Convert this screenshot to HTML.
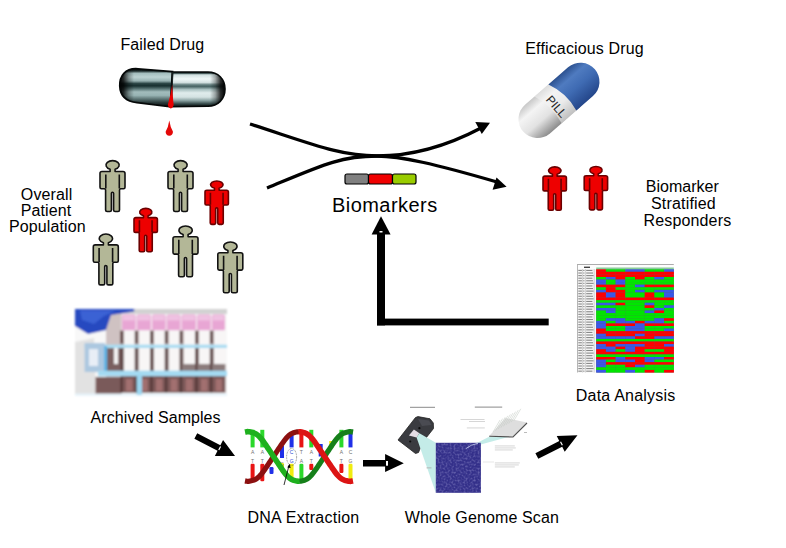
<!DOCTYPE html>
<html><head><meta charset="utf-8"><title>Biomarkers</title>
<style>html,body{margin:0;padding:0;background:#fff;overflow:hidden;} svg{display:block;} text{font-variant-ligatures:none;}</style></head>
<body>
<svg width="786" height="548" viewBox="0 0 786 548">
<rect width="786" height="548" fill="#fff"/>

<defs>
 <linearGradient id="pillL" x1="0" y1="0" x2="0" y2="1">
  <stop offset="0" stop-color="#060a0a"/>
  <stop offset="0.06" stop-color="#1a2828"/>
  <stop offset="0.12" stop-color="#a4bebe"/>
  <stop offset="0.22" stop-color="#bcd2d2"/>
  <stop offset="0.32" stop-color="#98b2b2"/>
  <stop offset="0.39" stop-color="#2a4444"/>
  <stop offset="0.45" stop-color="#183030"/>
  <stop offset="0.53" stop-color="#5a7676"/>
  <stop offset="0.61" stop-color="#a2bcbc"/>
  <stop offset="0.7" stop-color="#98b4b4"/>
  <stop offset="0.8" stop-color="#5a7272"/>
  <stop offset="0.89" stop-color="#2a3a3a"/>
  <stop offset="1" stop-color="#060a0a"/>
 </linearGradient>
 <linearGradient id="pillR" x1="0" y1="0" x2="0" y2="1">
  <stop offset="0" stop-color="#0a1010"/>
  <stop offset="0.04" stop-color="#3a5050"/>
  <stop offset="0.08" stop-color="#d0e0e0"/>
  <stop offset="0.2" stop-color="#f0f8f8"/>
  <stop offset="0.3" stop-color="#d4e2e2"/>
  <stop offset="0.37" stop-color="#607c7c"/>
  <stop offset="0.42" stop-color="#4a6666"/>
  <stop offset="0.5" stop-color="#a8c0c0"/>
  <stop offset="0.6" stop-color="#e0ecec"/>
  <stop offset="0.72" stop-color="#d4e2e2"/>
  <stop offset="0.82" stop-color="#8aa2a2"/>
  <stop offset="0.92" stop-color="#304444"/>
  <stop offset="1" stop-color="#0a1010"/>
 </linearGradient>
 <linearGradient id="blueCap" x1="0" y1="0" x2="0" y2="1">
  <stop offset="0" stop-color="#2c5190"/>
  <stop offset="0.25" stop-color="#4f7bc0"/>
  <stop offset="0.55" stop-color="#3f6bb3"/>
  <stop offset="1" stop-color="#24468a"/>
 </linearGradient>
 <linearGradient id="whiteCap" x1="0" y1="0" x2="0" y2="1">
  <stop offset="0" stop-color="#c8c8c8"/>
  <stop offset="0.25" stop-color="#f4f4f4"/>
  <stop offset="0.6" stop-color="#e2e2e2"/>
  <stop offset="1" stop-color="#8c8c8c"/>
 </linearGradient>
 <radialGradient id="whiteEnd" cx="0.45" cy="0.35" r="0.7">
  <stop offset="0" stop-color="#f6f6f6"/>
  <stop offset="0.6" stop-color="#d8d8d8"/>
  <stop offset="1" stop-color="#8c8c8c"/>
 </radialGradient>
 <filter id="noise" x="0" y="0" width="1" height="1">
  <feTurbulence type="fractalNoise" baseFrequency="0.5" numOctaves="2" seed="3" result="t0"/><feGaussianBlur in="t0" stdDeviation="0.5" result="t"/>
  <feColorMatrix in="t" type="matrix" values="0 0 0 0 0.4  0 0 0 0 0.38  0 0 0 0 0.72  0 0 0 1.0 -0.42" result="c"/>
  <feComposite in="c" in2="SourceGraphic" operator="in"/>
 </filter>
 <filter id="soft" x="-5%" y="-5%" width="110%" height="110%"><feGaussianBlur stdDeviation="0.9"/></filter>
 <filter id="soft2" x="-5%" y="-5%" width="110%" height="110%"><feGaussianBlur stdDeviation="0.35"/></filter>
 <filter id="soft3" x="-5%" y="-5%" width="110%" height="110%"><feGaussianBlur stdDeviation="0.9"/></filter>
</defs>

<text x="120.5" y="49.9" font-family="Liberation Sans, sans-serif" font-size="16" fill="#000" letter-spacing="0.1">Failed Drug</text>
<text x="525.3" y="54.4" font-family="Liberation Sans, sans-serif" font-size="16" fill="#000" letter-spacing="0.15">Efficacious Drug</text>
<text x="332" y="212.1" font-family="Liberation Sans, sans-serif" font-size="20" fill="#000" letter-spacing="0.45">Biomarkers</text>
<text x="645.8" y="192.4" font-family="Liberation Sans, sans-serif" font-size="16" fill="#000" >Biomarker</text>
<text x="651" y="209.2" font-family="Liberation Sans, sans-serif" font-size="16" fill="#000" letter-spacing="0.18">Stratified</text>
<text x="643.6" y="226.4" font-family="Liberation Sans, sans-serif" font-size="16" fill="#000" letter-spacing="0.14">Responders</text>
<text x="20.8" y="199.5" font-family="Liberation Sans, sans-serif" font-size="16" fill="#000" letter-spacing="0.15">Overall</text>
<text x="20.8" y="216.4" font-family="Liberation Sans, sans-serif" font-size="16" fill="#000" letter-spacing="0.1">Patient</text>
<text x="8.9" y="232.3" font-family="Liberation Sans, sans-serif" font-size="16" fill="#000" letter-spacing="0.12">Population</text>
<text x="90.6" y="423.1" font-family="Liberation Sans, sans-serif" font-size="16" fill="#000" letter-spacing="0.07">Archived Samples</text>
<text x="247.5" y="523.1" font-family="Liberation Sans, sans-serif" font-size="16" fill="#000" letter-spacing="0.25">DNA Extraction</text>
<text x="404.8" y="522.5" font-family="Liberation Sans, sans-serif" font-size="16" fill="#000" letter-spacing="0.12">Whole Genome Scan</text>
<text x="575.8" y="401.3" font-family="Liberation Sans, sans-serif" font-size="16" fill="#000" letter-spacing="0.2">Data Analysis</text>
<defs><linearGradient id="endL" x1="119" y1="0" x2="134" y2="0" gradientUnits="userSpaceOnUse"><stop offset="0" stop-color="#000" stop-opacity="1"/><stop offset="0.3" stop-color="#000" stop-opacity="0.8"/><stop offset="0.65" stop-color="#000" stop-opacity="0.3"/><stop offset="1" stop-color="#000" stop-opacity="0"/></linearGradient><linearGradient id="endR" x1="225" y1="0" x2="210" y2="0" gradientUnits="userSpaceOnUse"><stop offset="0" stop-color="#000" stop-opacity="1"/><stop offset="0.3" stop-color="#000" stop-opacity="0.8"/><stop offset="0.65" stop-color="#000" stop-opacity="0.3"/><stop offset="1" stop-color="#000" stop-opacity="0"/></linearGradient></defs>
<path d="M172.5,71.6 L138,68.8 C125,67.8 119.5,76 119.8,86 C120.2,96 126,101.5 137,102.6 L170.5,106.8 Z" fill="url(#pillL)"/>
<path d="M172.5,71.6 L138,68.8 C125,67.8 119.5,76 119.8,86 C120.2,96 126,101.5 137,102.6 L170.5,106.8 Z" fill="url(#endL)"/>
<path d="M172.5,71.6 L138,68.8 C125,67.8 119.5,76 119.8,86 C120.2,96 126,101.5 137,102.6 L170.5,106.8 Z" fill="none" stroke="#050808" stroke-width="1.8"/>
<path d="M172.5,72 L208,72 C218,72 225,79 225,89 C225,99 218,106.3 208,106.3 L170.5,106.8 Z" fill="url(#pillR)"/>
<path d="M172.5,72 L208,72 C218,72 225,79 225,89 C225,99 218,106.3 208,106.3 L170.5,106.8 Z" fill="url(#endR)"/>
<path d="M172.5,72 L208,72 C218,72 225,79 225,89 C225,99 218,106.3 208,106.3 L170.5,106.8 Z" fill="none" stroke="#050808" stroke-width="1.6"/>
<path d="M172.4,72 L173.4,72 L172,107 L170.8,106.8 Z" fill="#1c2828"/>
<path d="M172.2,84.8 Q172.8,98 173.7,105 Q172.5,108.6 170.5,108.6 Q168,107 167.8,105 Q170.5,96 172.2,84.8 Z" fill="#e80000"/>
<path d="M169.3,120.4 Q170.3,127 172.9,131.5 A3.65,3.65 0 1 1 165.7,131.5 Q168.3,127 169.3,120.4 Z" fill="#e40808"/>
<g transform="translate(559,100.4) rotate(-41)">
<path d="M-28.5,-19 H12 V19 H-28.5 A19,19 0 0 1 -28.5,-19 Z" fill="url(#whiteCap)"/>
<path d="M-16,-19 H4 Q11,0 6.5,19 H-13 Q-9,0 -16,-19 Z" fill="#f4f4f4" opacity="0.5"/>
<path d="M2.5,-19 H28.5 A19,19 0 0 1 28.5,19 H6.5 Q11,0 2.5,-19 Z" fill="url(#blueCap)"/>
<text x="0" y="0" font-family="Liberation Sans, sans-serif" font-size="12" fill="#262626" transform="translate(-7,3) rotate(90)" text-anchor="middle" dominant-baseline="middle">PILL</text>
</g>
<g transform="translate(100,160) scale(1.0000,1.0000)"><path d="M10.1,9.3 L10.1,11.5 L2,11.5 Q0,11.5 0,13.5 L0,27.3 Q0,28.8 1.4,28.8 L4.4,28.8 Q5.6,28.8 5.6,30 L5.6,50 Q5.6,51.5 7.1,51.5 L9.9,51.5 Q11.4,51.5 11.4,50 L11.4,33.2 Q11.4,32.2 12.4,32.2 Q13.6,32.2 13.6,33.2 L13.6,50 Q13.6,51.5 15.1,51.5 L18,51.5 Q19.5,51.5 19.5,50 L19.5,30 Q19.5,28.8 20.7,28.8 L23.6,28.8 Q25,28.8 25,27.3 L25,13.5 Q25,11.5 23,11.5 L15.1,11.5 L15.1,9.3 A6.6,4.5 0 1 0 10.1,9.3 Z" fill="#b3b797" stroke="#121212" stroke-width="1.6" vector-effect="non-scaling-stroke" stroke-linejoin="round"/><path d="M5.8,14.5 V28.6 M19.3,14.5 V28.6" stroke="#121212" stroke-width="1.6" vector-effect="non-scaling-stroke" fill="none"/></g>
<g transform="translate(168,160) scale(1.0000,1.0000)"><path d="M10.1,9.3 L10.1,11.5 L2,11.5 Q0,11.5 0,13.5 L0,27.3 Q0,28.8 1.4,28.8 L4.4,28.8 Q5.6,28.8 5.6,30 L5.6,50 Q5.6,51.5 7.1,51.5 L9.9,51.5 Q11.4,51.5 11.4,50 L11.4,33.2 Q11.4,32.2 12.4,32.2 Q13.6,32.2 13.6,33.2 L13.6,50 Q13.6,51.5 15.1,51.5 L18,51.5 Q19.5,51.5 19.5,50 L19.5,30 Q19.5,28.8 20.7,28.8 L23.6,28.8 Q25,28.8 25,27.3 L25,13.5 Q25,11.5 23,11.5 L15.1,11.5 L15.1,9.3 A6.6,4.5 0 1 0 10.1,9.3 Z" fill="#b3b797" stroke="#121212" stroke-width="1.6" vector-effect="non-scaling-stroke" stroke-linejoin="round"/><path d="M5.8,14.5 V28.6 M19.3,14.5 V28.6" stroke="#121212" stroke-width="1.6" vector-effect="non-scaling-stroke" fill="none"/></g>
<g transform="translate(173,225.3) scale(1.0000,1.0000)"><path d="M10.1,9.3 L10.1,11.5 L2,11.5 Q0,11.5 0,13.5 L0,27.3 Q0,28.8 1.4,28.8 L4.4,28.8 Q5.6,28.8 5.6,30 L5.6,50 Q5.6,51.5 7.1,51.5 L9.9,51.5 Q11.4,51.5 11.4,50 L11.4,33.2 Q11.4,32.2 12.4,32.2 Q13.6,32.2 13.6,33.2 L13.6,50 Q13.6,51.5 15.1,51.5 L18,51.5 Q19.5,51.5 19.5,50 L19.5,30 Q19.5,28.8 20.7,28.8 L23.6,28.8 Q25,28.8 25,27.3 L25,13.5 Q25,11.5 23,11.5 L15.1,11.5 L15.1,9.3 A6.6,4.5 0 1 0 10.1,9.3 Z" fill="#b3b797" stroke="#121212" stroke-width="1.6" vector-effect="non-scaling-stroke" stroke-linejoin="round"/><path d="M5.8,14.5 V28.6 M19.3,14.5 V28.6" stroke="#121212" stroke-width="1.6" vector-effect="non-scaling-stroke" fill="none"/></g>
<g transform="translate(217.8,241.3) scale(1.0000,1.0000)"><path d="M10.1,9.3 L10.1,11.5 L2,11.5 Q0,11.5 0,13.5 L0,27.3 Q0,28.8 1.4,28.8 L4.4,28.8 Q5.6,28.8 5.6,30 L5.6,50 Q5.6,51.5 7.1,51.5 L9.9,51.5 Q11.4,51.5 11.4,50 L11.4,33.2 Q11.4,32.2 12.4,32.2 Q13.6,32.2 13.6,33.2 L13.6,50 Q13.6,51.5 15.1,51.5 L18,51.5 Q19.5,51.5 19.5,50 L19.5,30 Q19.5,28.8 20.7,28.8 L23.6,28.8 Q25,28.8 25,27.3 L25,13.5 Q25,11.5 23,11.5 L15.1,11.5 L15.1,9.3 A6.6,4.5 0 1 0 10.1,9.3 Z" fill="#b3b797" stroke="#121212" stroke-width="1.6" vector-effect="non-scaling-stroke" stroke-linejoin="round"/><path d="M5.8,14.5 V28.6 M19.3,14.5 V28.6" stroke="#121212" stroke-width="1.6" vector-effect="non-scaling-stroke" fill="none"/></g>
<g transform="translate(93.3,233.4) scale(1.0000,1.0000)"><path d="M10.1,9.3 L10.1,11.5 L2,11.5 Q0,11.5 0,13.5 L0,27.3 Q0,28.8 1.4,28.8 L4.4,28.8 Q5.6,28.8 5.6,30 L5.6,50 Q5.6,51.5 7.1,51.5 L9.9,51.5 Q11.4,51.5 11.4,50 L11.4,33.2 Q11.4,32.2 12.4,32.2 Q13.6,32.2 13.6,33.2 L13.6,50 Q13.6,51.5 15.1,51.5 L18,51.5 Q19.5,51.5 19.5,50 L19.5,30 Q19.5,28.8 20.7,28.8 L23.6,28.8 Q25,28.8 25,27.3 L25,13.5 Q25,11.5 23,11.5 L15.1,11.5 L15.1,9.3 A6.6,4.5 0 1 0 10.1,9.3 Z" fill="#b3b797" stroke="#121212" stroke-width="1.6" vector-effect="non-scaling-stroke" stroke-linejoin="round"/><path d="M5.8,14.5 V28.6 M19.3,14.5 V28.6" stroke="#121212" stroke-width="1.6" vector-effect="non-scaling-stroke" fill="none"/></g>
<g transform="translate(205,180.4) scale(0.9360,0.8544)"><path d="M10.1,9.3 L10.1,11.5 L2,11.5 Q0,11.5 0,13.5 L0,27.3 Q0,28.8 1.4,28.8 L4.4,28.8 Q5.6,28.8 5.6,30 L5.6,50 Q5.6,51.5 7.1,51.5 L9.9,51.5 Q11.4,51.5 11.4,50 L11.4,33.2 Q11.4,32.2 12.4,32.2 Q13.6,32.2 13.6,33.2 L13.6,50 Q13.6,51.5 15.1,51.5 L18,51.5 Q19.5,51.5 19.5,50 L19.5,30 Q19.5,28.8 20.7,28.8 L23.6,28.8 Q25,28.8 25,27.3 L25,13.5 Q25,11.5 23,11.5 L15.1,11.5 L15.1,9.3 A6.6,4.5 0 1 0 10.1,9.3 Z" fill="#ee0000" stroke="#6a0000" stroke-width="1.6" vector-effect="non-scaling-stroke" stroke-linejoin="round"/><path d="M5.8,14.5 V28.6 M19.3,14.5 V28.6" stroke="#6a0000" stroke-width="1.6" vector-effect="non-scaling-stroke" fill="none"/></g>
<g transform="translate(134,207.8) scale(0.9360,0.8544)"><path d="M10.1,9.3 L10.1,11.5 L2,11.5 Q0,11.5 0,13.5 L0,27.3 Q0,28.8 1.4,28.8 L4.4,28.8 Q5.6,28.8 5.6,30 L5.6,50 Q5.6,51.5 7.1,51.5 L9.9,51.5 Q11.4,51.5 11.4,50 L11.4,33.2 Q11.4,32.2 12.4,32.2 Q13.6,32.2 13.6,33.2 L13.6,50 Q13.6,51.5 15.1,51.5 L18,51.5 Q19.5,51.5 19.5,50 L19.5,30 Q19.5,28.8 20.7,28.8 L23.6,28.8 Q25,28.8 25,27.3 L25,13.5 Q25,11.5 23,11.5 L15.1,11.5 L15.1,9.3 A6.6,4.5 0 1 0 10.1,9.3 Z" fill="#ee0000" stroke="#6a0000" stroke-width="1.6" vector-effect="non-scaling-stroke" stroke-linejoin="round"/><path d="M5.8,14.5 V28.6 M19.3,14.5 V28.6" stroke="#6a0000" stroke-width="1.6" vector-effect="non-scaling-stroke" fill="none"/></g>
<g transform="translate(543,166.3) scale(0.9360,0.8544)"><path d="M10.1,9.3 L10.1,11.5 L2,11.5 Q0,11.5 0,13.5 L0,27.3 Q0,28.8 1.4,28.8 L4.4,28.8 Q5.6,28.8 5.6,30 L5.6,50 Q5.6,51.5 7.1,51.5 L9.9,51.5 Q11.4,51.5 11.4,50 L11.4,33.2 Q11.4,32.2 12.4,32.2 Q13.6,32.2 13.6,33.2 L13.6,50 Q13.6,51.5 15.1,51.5 L18,51.5 Q19.5,51.5 19.5,50 L19.5,30 Q19.5,28.8 20.7,28.8 L23.6,28.8 Q25,28.8 25,27.3 L25,13.5 Q25,11.5 23,11.5 L15.1,11.5 L15.1,9.3 A6.6,4.5 0 1 0 10.1,9.3 Z" fill="#ee0000" stroke="#6a0000" stroke-width="1.6" vector-effect="non-scaling-stroke" stroke-linejoin="round"/><path d="M5.8,14.5 V28.6 M19.3,14.5 V28.6" stroke="#6a0000" stroke-width="1.6" vector-effect="non-scaling-stroke" fill="none"/></g>
<g transform="translate(584.2,165.9) scale(0.9360,0.8544)"><path d="M10.1,9.3 L10.1,11.5 L2,11.5 Q0,11.5 0,13.5 L0,27.3 Q0,28.8 1.4,28.8 L4.4,28.8 Q5.6,28.8 5.6,30 L5.6,50 Q5.6,51.5 7.1,51.5 L9.9,51.5 Q11.4,51.5 11.4,50 L11.4,33.2 Q11.4,32.2 12.4,32.2 Q13.6,32.2 13.6,33.2 L13.6,50 Q13.6,51.5 15.1,51.5 L18,51.5 Q19.5,51.5 19.5,50 L19.5,30 Q19.5,28.8 20.7,28.8 L23.6,28.8 Q25,28.8 25,27.3 L25,13.5 Q25,11.5 23,11.5 L15.1,11.5 L15.1,9.3 A6.6,4.5 0 1 0 10.1,9.3 Z" fill="#ee0000" stroke="#6a0000" stroke-width="1.6" vector-effect="non-scaling-stroke" stroke-linejoin="round"/><path d="M5.8,14.5 V28.6 M19.3,14.5 V28.6" stroke="#6a0000" stroke-width="1.6" vector-effect="non-scaling-stroke" fill="none"/></g>
<path d="M250,124 C312,144 340,156 377,156 C412,156 445,147 481,128" fill="none" stroke="#000" stroke-width="3.3"/>
<path d="M267,188 C320,166 340,156 377,156 C400,156 435,164 497,182" fill="none" stroke="#000" stroke-width="3.3"/>
<polygon points="490,122.7 475.3,122.1 481.8,134" fill="#000"/>
<polygon points="506.6,186.7 496.5,177.4 492.6,189.8" fill="#000"/>
<rect x="345" y="174" width="23.5" height="10" rx="2" fill="#808080" stroke="#000" stroke-width="1.2"/>
<rect x="368.5" y="174" width="24" height="10" rx="2" fill="#f00000" stroke="#000" stroke-width="1.2"/>
<rect x="392.5" y="174" width="23.5" height="10" rx="2" fill="#99cc00" stroke="#000" stroke-width="1.2"/>
<rect x="377" y="232" width="8" height="93.4" fill="#000"/>
<rect x="377" y="318.6" width="171.7" height="6.8" fill="#000"/>
<polygon points="381,216.3 371.6,234.6 390.6,234.6" fill="#000"/>
<rect x="379.5" y="231" width="3" height="1.5" fill="#fff"/>
<g transform="translate(195.8,436.1) rotate(27)"><polygon points="0,-3.1 26,-3.1 26,-9 44,0 26,9 26,3.1 0,3.1" fill="#000"/><rect x="26.2" y="-2" width="1.2" height="4" fill="#fff"/></g>
<polygon points="363,460 385.1,460 385.1,454.1 403.8,463.3 385.1,472.1 385.1,466.6 363,466.6" fill="#000"/><rect x="386" y="461" width="2" height="4.7" fill="#fff"/>
<g transform="translate(536.85,456) rotate(-27)"><polygon points="0,-3.2 26.8,-3.2 26.8,-8.8 45.6,0 26.8,8.8 26.8,3.2 0,3.2" fill="#000"/><rect x="27" y="-2" width="1.2" height="4" fill="#fff"/></g>
<g filter="url(#soft)">
<rect x="75" y="309" width="152" height="87" fill="#f8f8f8"/>
<path d="M75,342 L94,338 L96,395 L75,395 Z" fill="#e2e2e2"/>
<rect x="104" y="309" width="123" height="5" fill="#d2d2d2"/>
<rect x="106" y="311" width="15.5" height="82" fill="#cfc2c2"/>
<rect x="106" y="347" width="15.5" height="25" fill="#7a6060"/>
<rect x="114" y="348" width="4" height="16" fill="#f4f4f4"/>
<rect x="95.5" y="377" width="26" height="17" fill="#7a5a5a"/>
<rect x="122.0" y="314.5" width="13.699999999999989" height="16" rx="1.5" fill="#e8a6d4"/>
<rect x="123.0" y="315.5" width="11.699999999999989" height="5" fill="#f0c2e2"/>
<rect x="121.5" y="330.5" width="14.699999999999989" height="41.5" fill="#f8f6f6"/>
<rect x="120.0" y="330.5" width="4" height="14" fill="#8e7878"/>
<rect x="120.0" y="347" width="4" height="25" fill="#7e6868"/>
<rect x="121.5" y="375.7" width="14.699999999999989" height="17" fill="#7a5656"/>
<rect x="125.9" y="379" width="6.6" height="12" fill="#a27070"/>
<rect x="120.7" y="331" width="1.6" height="12" fill="#4a2c2c"/>
<rect x="120.7" y="348" width="1.6" height="24" fill="#4e3434"/>
<rect x="120.8" y="375.7" width="1.4" height="17" fill="#3a2222"/>
<rect x="136.7" y="314.5" width="14.300000000000011" height="16" rx="1.5" fill="#e8a6d4"/>
<rect x="137.7" y="315.5" width="12.300000000000011" height="5" fill="#f0c2e2"/>
<rect x="136.2" y="330.5" width="15.300000000000011" height="41.5" fill="#f8f6f6"/>
<rect x="134.7" y="330.5" width="4" height="14" fill="#8e7878"/>
<rect x="134.7" y="347" width="4" height="25" fill="#7e6868"/>
<rect x="136.2" y="375.7" width="15.300000000000011" height="17" fill="#7a5656"/>
<rect x="140.8" y="379" width="6.9" height="12" fill="#a27070"/>
<rect x="135.39999999999998" y="331" width="1.6" height="12" fill="#4a2c2c"/>
<rect x="135.39999999999998" y="348" width="1.6" height="24" fill="#4e3434"/>
<rect x="135.5" y="375.7" width="1.4" height="17" fill="#3a2222"/>
<rect x="152.0" y="314.5" width="13.699999999999989" height="16" rx="1.5" fill="#e8a6d4"/>
<rect x="153.0" y="315.5" width="11.699999999999989" height="5" fill="#f0c2e2"/>
<rect x="151.5" y="330.5" width="14.699999999999989" height="41.5" fill="#f8f6f6"/>
<rect x="150.0" y="330.5" width="4" height="14" fill="#8e7878"/>
<rect x="150.0" y="347" width="4" height="25" fill="#7e6868"/>
<rect x="151.5" y="375.7" width="14.699999999999989" height="17" fill="#7a5656"/>
<rect x="155.9" y="379" width="6.6" height="12" fill="#a27070"/>
<rect x="150.7" y="331" width="1.6" height="12" fill="#4a2c2c"/>
<rect x="150.7" y="348" width="1.6" height="24" fill="#4e3434"/>
<rect x="150.8" y="375.7" width="1.4" height="17" fill="#3a2222"/>
<rect x="166.7" y="314.5" width="13.800000000000011" height="16" rx="1.5" fill="#e8a6d4"/>
<rect x="167.7" y="315.5" width="11.800000000000011" height="5" fill="#f0c2e2"/>
<rect x="166.2" y="330.5" width="14.800000000000011" height="41.5" fill="#f8f6f6"/>
<rect x="164.7" y="330.5" width="4" height="14" fill="#8e7878"/>
<rect x="164.7" y="347" width="4" height="25" fill="#7e6868"/>
<rect x="166.2" y="375.7" width="14.800000000000011" height="17" fill="#7a5656"/>
<rect x="170.6" y="379" width="6.7" height="12" fill="#a27070"/>
<rect x="165.39999999999998" y="331" width="1.6" height="12" fill="#4a2c2c"/>
<rect x="165.39999999999998" y="348" width="1.6" height="24" fill="#4e3434"/>
<rect x="165.5" y="375.7" width="1.4" height="17" fill="#3a2222"/>
<rect x="181.5" y="314.5" width="14.5" height="16" rx="1.5" fill="#e8a6d4"/>
<rect x="182.5" y="315.5" width="12.5" height="5" fill="#f0c2e2"/>
<rect x="181" y="330.5" width="15.5" height="41.5" fill="#f8f6f6"/>
<rect x="179.5" y="330.5" width="4" height="14" fill="#8e7878"/>
<rect x="179.5" y="347" width="4" height="25" fill="#7e6868"/>
<rect x="181" y="364" width="15.5" height="8" fill="#8c7c7c"/>
<rect x="181" y="375.7" width="15.5" height="17" fill="#7a5656"/>
<rect x="185.7" y="379" width="7.0" height="12" fill="#a27070"/>
<rect x="180.2" y="331" width="1.6" height="12" fill="#4a2c2c"/>
<rect x="180.2" y="348" width="1.6" height="24" fill="#4e3434"/>
<rect x="180.3" y="375.7" width="1.4" height="17" fill="#3a2222"/>
<rect x="197.0" y="314.5" width="13.800000000000011" height="16" rx="1.5" fill="#e8a6d4"/>
<rect x="198.0" y="315.5" width="11.800000000000011" height="5" fill="#f0c2e2"/>
<rect x="196.5" y="330.5" width="14.800000000000011" height="41.5" fill="#f8f6f6"/>
<rect x="195.0" y="330.5" width="4" height="14" fill="#8e7878"/>
<rect x="195.0" y="347" width="4" height="25" fill="#7e6868"/>
<rect x="196.5" y="364" width="14.800000000000011" height="8" fill="#8c7c7c"/>
<rect x="196.5" y="375.7" width="14.800000000000011" height="17" fill="#7a5656"/>
<rect x="200.9" y="379" width="6.7" height="12" fill="#a27070"/>
<rect x="195.7" y="331" width="1.6" height="12" fill="#4a2c2c"/>
<rect x="195.7" y="348" width="1.6" height="24" fill="#4e3434"/>
<rect x="195.8" y="375.7" width="1.4" height="17" fill="#3a2222"/>
<rect x="211.8" y="314.5" width="13.199999999999989" height="16" rx="1.5" fill="#e8a6d4"/>
<rect x="212.8" y="315.5" width="11.199999999999989" height="5" fill="#f0c2e2"/>
<rect x="211.3" y="330.5" width="14.199999999999989" height="41.5" fill="#f8f6f6"/>
<rect x="209.8" y="330.5" width="4" height="14" fill="#8e7878"/>
<rect x="209.8" y="347" width="4" height="25" fill="#7e6868"/>
<rect x="211.3" y="364" width="14.199999999999989" height="8" fill="#8c7c7c"/>
<rect x="211.3" y="375.7" width="14.199999999999989" height="17" fill="#7a5656"/>
<rect x="215.6" y="379" width="6.4" height="12" fill="#a27070"/>
<rect x="210.5" y="331" width="1.6" height="12" fill="#4a2c2c"/>
<rect x="210.5" y="348" width="1.6" height="24" fill="#4e3434"/>
<rect x="210.60000000000002" y="375.7" width="1.4" height="17" fill="#3a2222"/>
<rect x="75" y="393.5" width="152" height="2.5" fill="#e8f4fb"/>
<path d="M75,309 L134.5,309 L134,311.5 L111,315 L106,330 L88,334 L75,326 Z" fill="#2848c0"/>
<path d="M80,310.5 L116,310.5 L104,316 L94,324 L82,320 Z" fill="#3a62d4"/>
<rect x="84.6" y="344.7" width="142.4" height="3.3" fill="#a8dcf2"/>
<rect x="84.6" y="343" width="20.5" height="29" fill="#acc8e0"/>
<rect x="89" y="349" width="9" height="17" fill="#e8eef6"/>
<rect x="104" y="346" width="3" height="27" fill="#5cb4e4"/>
<rect x="98" y="370.7" width="129" height="5.5" fill="#a4daf2"/>
<rect x="136.6" y="374.8" width="5.4" height="20" fill="#9cd6f0"/>
</g>
<g transform="translate(245,427)">
<rect x="5.6" y="2.8" width="4" height="17.599999999999998" fill="#2ad82a"/>
<rect x="5.6" y="36.7" width="4" height="17.599999999999994" rx="1.2" fill="#e81414"/>
<rect x="15.3" y="2.8" width="4" height="17.599999999999998" fill="#2ad82a"/>
<rect x="15.3" y="36.7" width="4" height="17.599999999999994" rx="1.2" fill="#e81414"/>
<rect x="24.5" y="40" width="4" height="7" rx="1.2" fill="#2030e8"/>
<rect x="35" y="19" width="4" height="12" fill="#2030e8"/>
<rect x="35" y="36" width="4" height="9" rx="1.2" fill="#f0ec10"/>
<rect x="44.6" y="6.5" width="4" height="13.899999999999999" fill="#2030e8"/>
<rect x="44.6" y="36.7" width="4" height="15.299999999999997" rx="1.2" fill="#f0ec10"/>
<rect x="54.4" y="2.8" width="4" height="17.599999999999998" fill="#e81414"/>
<rect x="54.4" y="36.7" width="4" height="17.599999999999994" rx="1.2" fill="#2ad82a"/>
<rect x="64.3" y="2.8" width="4" height="17.599999999999998" fill="#2ad82a"/>
<rect x="64.3" y="36.7" width="4" height="6.299999999999997" rx="1.2" fill="#e81414"/>
<rect x="73.7" y="17" width="4" height="12.5" fill="#2030e8"/>
<rect x="84.2" y="14" width="4" height="7" fill="#f0ec10"/>
<rect x="94.4" y="2.8" width="4" height="17.599999999999998" fill="#2ad82a"/>
<rect x="94.4" y="36.7" width="4" height="9.299999999999997" rx="1.2" fill="#e81414"/>
<rect x="103.5" y="2.8" width="4" height="17.599999999999998" fill="#2030e8"/>
<rect x="103.5" y="36.7" width="4" height="17.599999999999994" rx="1.2" fill="#f0ec10"/>
<text x="7.6" y="27.3" font-family="Liberation Sans, sans-serif" font-size="5" fill="#707070" text-anchor="middle">A</text>
<text x="17.3" y="27.3" font-family="Liberation Sans, sans-serif" font-size="5" fill="#707070" text-anchor="middle">A</text>
<text x="46.6" y="27.3" font-family="Liberation Sans, sans-serif" font-size="5" fill="#2a4cd0" text-anchor="middle">C</text>
<text x="56.4" y="27.3" font-family="Liberation Sans, sans-serif" font-size="5" fill="#707070" text-anchor="middle">T</text>
<text x="66.3" y="27.3" font-family="Liberation Sans, sans-serif" font-size="5" fill="#707070" text-anchor="middle">A</text>
<text x="96.4" y="27.3" font-family="Liberation Sans, sans-serif" font-size="5" fill="#707070" text-anchor="middle">A</text>
<text x="105.5" y="27.3" font-family="Liberation Sans, sans-serif" font-size="5" fill="#707070" text-anchor="middle">C</text>
<text x="7.6" y="35.5" font-family="Liberation Sans, sans-serif" font-size="5" fill="#707070" text-anchor="middle">T</text>
<text x="17.3" y="35.5" font-family="Liberation Sans, sans-serif" font-size="5" fill="#707070" text-anchor="middle">T</text>
<text x="46.6" y="35.5" font-family="Liberation Sans, sans-serif" font-size="5" fill="#2a4cd0" text-anchor="middle">G</text>
<text x="56.4" y="35.5" font-family="Liberation Sans, sans-serif" font-size="5" fill="#707070" text-anchor="middle">A</text>
<text x="66.3" y="35.5" font-family="Liberation Sans, sans-serif" font-size="5" fill="#707070" text-anchor="middle">T</text>
<text x="96.4" y="35.5" font-family="Liberation Sans, sans-serif" font-size="5" fill="#707070" text-anchor="middle">T</text>
<text x="105.5" y="35.5" font-family="Liberation Sans, sans-serif" font-size="5" fill="#707070" text-anchor="middle">G</text>
<text x="37" y="39" font-family="Liberation Sans, sans-serif" font-size="5" fill="#888" text-anchor="middle">G</text>
<text x="86.2" y="19.5" font-family="Liberation Sans, sans-serif" font-size="5" fill="#888" text-anchor="middle">G</text>
<ellipse cx="46.6" cy="30" rx="5" ry="8.5" fill="none" stroke="#333" stroke-width="0.6" stroke-dasharray="0.8,0.8"/>
<path d="M-0.50,56.45 L0.44,56.64 L1.42,56.79 L2.58,56.94 L3.84,56.89 L4.90,56.75 L5.88,56.58 L6.88,56.37 L7.90,56.11 L8.93,55.80 L9.98,55.41 L11.04,54.94 L12.10,54.38 L13.16,53.72 L14.21,52.95 L15.24,52.09 L16.24,51.13 L17.23,50.08 L18.20,48.95 L19.15,47.77 L20.09,46.53 L21.02,45.25 L21.93,43.95 L22.85,42.62 L23.75,41.28 L24.66,39.94 L25.56,38.59 L26.46,37.24 L27.36,35.89 L28.26,34.54 L29.16,33.19 L30.06,31.84 L30.96,30.49 L31.86,29.14 L32.76,27.79 L33.66,26.44 L34.56,25.09 L35.46,23.75 L36.36,22.40 L37.26,21.07 L38.15,19.75 L39.04,18.45 L39.92,17.18 L40.80,15.96 L41.67,14.80 L42.52,13.71 L43.36,12.71 L44.18,11.81 L44.97,11.02 L45.75,10.34 L46.51,9.76 L47.25,9.27 L47.99,8.86 L48.73,8.51 L49.48,8.22 L50.24,7.97 L51.02,7.76 L51.82,7.58 L52.63,7.44 L53.46,7.31 L54.32,7.20 L53.68,2.04 L52.74,2.16 L51.77,2.31 L50.78,2.49 L49.78,2.71 L48.76,2.98 L47.72,3.32 L46.67,3.73 L45.61,4.23 L44.55,4.83 L43.49,5.52 L42.45,6.32 L41.43,7.22 L40.42,8.21 L39.44,9.29 L38.48,10.43 L37.53,11.64 L36.60,12.89 L35.68,14.18 L34.76,15.49 L33.85,16.82 L32.94,18.16 L32.04,19.51 L31.14,20.86 L30.24,22.21 L29.34,23.56 L28.44,24.91 L27.54,26.26 L26.64,27.61 L25.74,28.96 L24.84,30.31 L23.94,31.66 L23.04,33.01 L22.14,34.36 L21.24,35.70 L20.34,37.04 L19.45,38.37 L18.55,39.69 L17.67,40.98 L16.78,42.23 L15.91,43.43 L15.05,44.57 L14.20,45.63 L13.37,46.60 L12.56,47.46 L11.76,48.22 L10.99,48.86 L10.24,49.41 L9.50,49.88 L8.76,50.27 L8.02,50.59 L7.27,50.87 L6.50,51.10 L5.72,51.30 L4.92,51.47 L4.10,51.61 L3.36,51.72 L2.82,51.74 L2.18,51.65 L1.36,51.52 L0.50,51.35Z" fill="#8c1010"/>
<path d="M54.32,56.96 L55.26,56.84 L56.23,56.69 L57.22,56.51 L58.22,56.29 L59.24,56.02 L60.28,55.68 L61.33,55.27 L62.39,54.77 L63.45,54.17 L64.51,53.48 L65.55,52.68 L66.57,51.78 L67.58,50.79 L68.56,49.71 L69.52,48.57 L70.47,47.36 L71.40,46.11 L72.32,44.82 L73.24,43.51 L74.15,42.18 L75.06,40.84 L75.96,39.49 L76.86,38.14 L77.76,36.79 L78.66,35.44 L79.56,34.09 L80.46,32.74 L81.36,31.39 L82.26,30.04 L83.16,28.69 L84.06,27.34 L84.96,25.99 L85.86,24.64 L86.76,23.30 L87.66,21.96 L88.55,20.63 L89.45,19.31 L90.33,18.02 L91.22,16.77 L92.09,15.57 L92.95,14.43 L93.80,13.37 L94.63,12.40 L95.44,11.54 L96.24,10.78 L97.01,10.14 L97.76,9.59 L98.50,9.12 L99.24,8.73 L99.98,8.41 L100.73,8.13 L101.50,7.90 L102.28,7.70 L103.08,7.53 L103.90,7.39 L104.64,7.28 L105.18,7.26 L105.82,7.35 L106.64,7.48 L107.50,7.65 L108.50,2.55 L107.56,2.36 L106.58,2.21 L105.42,2.06 L104.16,2.11 L103.10,2.25 L102.12,2.42 L101.12,2.63 L100.10,2.89 L99.07,3.20 L98.02,3.59 L96.96,4.06 L95.90,4.62 L94.84,5.28 L93.79,6.05 L92.76,6.91 L91.76,7.87 L90.77,8.92 L89.80,10.05 L88.85,11.23 L87.91,12.47 L86.98,13.75 L86.07,15.05 L85.15,16.38 L84.25,17.72 L83.34,19.06 L82.44,20.41 L81.54,21.76 L80.64,23.11 L79.74,24.46 L78.84,25.81 L77.94,27.16 L77.04,28.51 L76.14,29.86 L75.24,31.21 L74.34,32.56 L73.44,33.91 L72.54,35.25 L71.64,36.60 L70.74,37.93 L69.85,39.25 L68.96,40.55 L68.08,41.82 L67.20,43.04 L66.33,44.20 L65.48,45.29 L64.64,46.29 L63.82,47.19 L63.03,47.98 L62.25,48.66 L61.49,49.24 L60.75,49.73 L60.01,50.14 L59.27,50.49 L58.52,50.78 L57.76,51.03 L56.98,51.24 L56.18,51.42 L55.37,51.56 L54.54,51.69 L53.68,51.80Z" fill="#16801a"/>
<path d="M0.54,7.85 L1.40,7.68 L2.22,7.55 L2.84,7.45 L3.37,7.49 L4.10,7.60 L4.92,7.74 L5.72,7.91 L6.51,8.10 L7.27,8.34 L8.02,8.62 L8.75,8.95 L9.48,9.34 L10.22,9.81 L10.97,10.37 L11.74,11.03 L12.53,11.80 L13.35,12.68 L14.18,13.66 L15.04,14.74 L15.91,15.90 L16.79,17.13 L17.68,18.40 L18.58,19.71 L19.48,21.04 L20.38,22.38 L21.29,23.73 L22.20,25.09 L23.10,26.45 L24.01,27.82 L24.92,29.18 L25.83,30.54 L26.74,31.90 L27.65,33.27 L28.55,34.63 L29.46,35.99 L30.37,37.35 L31.28,38.72 L32.19,40.08 L33.11,41.43 L34.02,42.78 L34.94,44.12 L35.87,45.44 L36.81,46.73 L37.76,47.98 L38.73,49.18 L39.71,50.31 L40.72,51.37 L41.74,52.34 L42.80,53.21 L43.87,53.98 L44.95,54.64 L46.04,55.20 L47.12,55.66 L48.18,56.05 L49.23,56.36 L50.26,56.61 L51.27,56.81 L52.27,56.97 L53.42,57.12 L54.54,57.12 L54.46,51.52 L53.76,51.53 L53.10,51.44 L52.28,51.30 L51.47,51.14 L50.69,50.95 L49.92,50.72 L49.17,50.45 L48.43,50.14 L47.70,49.76 L46.97,49.31 L46.22,48.78 L45.46,48.14 L44.67,47.40 L43.86,46.55 L43.02,45.59 L42.17,44.53 L41.31,43.39 L40.43,42.18 L39.54,40.92 L38.64,39.62 L37.74,38.30 L36.84,36.95 L35.94,35.60 L35.03,34.24 L34.12,32.88 L33.21,31.52 L32.30,30.16 L31.40,28.80 L30.49,27.43 L29.58,26.07 L28.67,24.71 L27.76,23.35 L26.85,21.98 L25.94,20.62 L25.03,19.26 L24.12,17.90 L23.21,16.55 L22.28,15.21 L21.36,13.89 L20.42,12.59 L19.48,11.33 L18.52,10.11 L17.54,8.96 L16.54,7.88 L15.51,6.89 L14.47,6.00 L13.40,5.20 L12.32,4.52 L11.23,3.93 L10.15,3.44 L9.08,3.04 L8.03,2.72 L6.99,2.45 L5.98,2.24 L4.98,2.06 L3.90,1.91 L2.61,1.86 L1.41,2.01 L0.42,2.16 L-0.54,2.35Z" fill="#1eb01e"/>
<path d="M53.54,7.48 L54.24,7.47 L54.90,7.56 L55.72,7.70 L56.53,7.86 L57.31,8.05 L58.08,8.28 L58.83,8.55 L59.57,8.86 L60.30,9.24 L61.03,9.69 L61.78,10.22 L62.54,10.86 L63.33,11.60 L64.14,12.45 L64.98,13.41 L65.83,14.47 L66.69,15.61 L67.57,16.82 L68.46,18.08 L69.36,19.38 L70.26,20.70 L71.16,22.05 L72.06,23.40 L72.97,24.76 L73.88,26.12 L74.79,27.48 L75.70,28.84 L76.60,30.20 L77.51,31.57 L78.42,32.93 L79.33,34.29 L80.24,35.65 L81.15,37.02 L82.06,38.38 L82.97,39.74 L83.88,41.10 L84.79,42.45 L85.72,43.79 L86.64,45.11 L87.58,46.41 L88.52,47.67 L89.48,48.89 L90.46,50.04 L91.46,51.12 L92.49,52.11 L93.53,53.00 L94.60,53.80 L95.68,54.48 L96.77,55.07 L97.85,55.56 L98.92,55.96 L99.97,56.28 L101.01,56.55 L102.02,56.76 L103.02,56.94 L104.10,57.09 L105.39,57.14 L106.59,56.99 L107.58,56.84 L108.54,56.65 L107.46,51.15 L106.60,51.32 L105.78,51.45 L105.16,51.55 L104.63,51.51 L103.90,51.40 L103.08,51.26 L102.28,51.09 L101.49,50.90 L100.73,50.66 L99.98,50.38 L99.25,50.05 L98.52,49.66 L97.78,49.19 L97.03,48.63 L96.26,47.97 L95.47,47.20 L94.65,46.32 L93.82,45.34 L92.96,44.26 L92.09,43.10 L91.21,41.87 L90.32,40.60 L89.42,39.29 L88.52,37.96 L87.62,36.62 L86.71,35.27 L85.80,33.91 L84.90,32.55 L83.99,31.18 L83.08,29.82 L82.17,28.46 L81.26,27.10 L80.35,25.73 L79.45,24.37 L78.54,23.01 L77.63,21.65 L76.72,20.28 L75.81,18.92 L74.89,17.57 L73.98,16.22 L73.06,14.88 L72.13,13.56 L71.19,12.27 L70.24,11.02 L69.27,9.82 L68.29,8.69 L67.28,7.63 L66.26,6.66 L65.20,5.79 L64.13,5.02 L63.05,4.36 L61.96,3.80 L60.88,3.34 L59.82,2.95 L58.77,2.64 L57.74,2.39 L56.73,2.19 L55.73,2.03 L54.58,1.88 L53.46,1.88Z" fill="#dc1414"/>
<path d="M39,58 L44,38.5" stroke="#000" stroke-width="0.8"/><polygon points="44.6,36.8 42.3,40.6 45.6,41" fill="#000"/>
</g>
<g>
<rect x="410" y="406.8" width="25" height="1" fill="#8a8a8a"/>
<rect x="474.8" y="406.6" width="27.4" height="1" fill="#8a8a8a"/>
<polygon points="398,440 415.5,417.5 418,416.6 430,418.8 433.3,423 433.5,428.5 426,438 420.5,447.5 418.5,452.5 415.5,453.5" fill="#3a3b40" stroke="#222" stroke-width="0.8" stroke-linejoin="round"/>
<polygon points="418,419 429,420.5 431.5,425 422,426" fill="#4a4b52"/>
<polygon points="413.9,429.6 419.4,433.3 416.6,437.4 408.9,435.5" fill="#e4dce4"/>
<circle cx="419.4" cy="428.2" r="1.1" fill="#0a0a0a"/><circle cx="410.2" cy="441.5" r="1.1" fill="#0a0a0a"/>
<polygon points="416.6,437.4 419.4,433.3 435.8,442.8 435.8,492.7" fill="#c4ece8"/>
<polygon points="466,448.6 489.2,436.8 508.3,437" fill="#c4ece8"/>
<rect x="435.8" y="442.8" width="45.1" height="50" fill="#34308a"/>
<rect x="435.8" y="442.8" width="45.1" height="50" fill="#000" filter="url(#noise)"/>
<path d="M466,448.5 Q471,444.5 478,443.3" stroke="#c8d0f0" stroke-width="0.8" fill="none"/>
<polygon points="489.2,436 505.5,418 527,422.6 513,436.6" fill="#dedede"/>
<line x1="493.0" y1="432.0" x2="500.0" y2="420.0" stroke="#c0c8c0" stroke-width="0.5"/>
<line x1="495.6" y1="430.6" x2="502.6" y2="418.6" stroke="#c0c8c0" stroke-width="0.5"/>
<line x1="498.2" y1="429.2" x2="505.2" y2="417.2" stroke="#c0c8c0" stroke-width="0.5"/>
<line x1="500.8" y1="427.8" x2="507.8" y2="415.8" stroke="#c0c8c0" stroke-width="0.5"/>
<line x1="503.4" y1="426.4" x2="510.4" y2="414.4" stroke="#c0c8c0" stroke-width="0.5"/>
<line x1="506.0" y1="425.0" x2="513.0" y2="413.0" stroke="#c0c8c0" stroke-width="0.5"/>
<line x1="508.6" y1="423.6" x2="515.6" y2="411.6" stroke="#c0c8c0" stroke-width="0.5"/>
<line x1="511.2" y1="422.2" x2="518.2" y2="410.2" stroke="#c0c8c0" stroke-width="0.5"/>
<line x1="513.8" y1="420.8" x2="520.8" y2="408.8" stroke="#c0c8c0" stroke-width="0.5"/>
<polyline points="489.2,436.3 513,437 527,423" fill="none" stroke="#505050" stroke-width="1.1"/>
<rect x="460.5" y="419.2" width="24" height="0.7" fill="#c4c4c4"/>
<rect x="469" y="421.2" width="16" height="0.7" fill="#c4c4c4"/>
<rect x="466.8" y="427.6" width="18" height="0.7" fill="#c4c4c4"/>
<rect x="494.8" y="445.6" width="20" height="0.7" fill="#c4c4c4"/>
<rect x="494.8" y="447.6" width="21" height="0.7" fill="#c4c4c4"/>
<rect x="494.8" y="449.6" width="18" height="0.7" fill="#c4c4c4"/>
<rect x="494.8" y="462.6" width="25" height="0.7" fill="#c4c4c4"/>
<rect x="494.8" y="464.6" width="24" height="0.7" fill="#c4c4c4"/>
<rect x="494.8" y="466.6" width="20" height="0.7" fill="#c4c4c4"/>
<line x1="483" y1="462" x2="494" y2="462" stroke="#ccc" stroke-width="0.5"/>
<rect x="426.5" y="467.5" width="5" height="0.8" fill="#aaa"/>
<rect x="524" y="432" width="3" height="0.8" fill="#aaa"/>
</g>
<rect x="577.3" y="264.2" width="96.5" height="108.3" fill="#f6f6f6"/>
<rect x="577.3" y="264.2" width="96.5" height="4.8" fill="#fdfdfd"/>
<rect x="577.3" y="264.2" width="96.5" height="0.7" fill="#8a8a8a"/>
<rect x="577.3" y="264.2" width="0.7" height="108.3" fill="#9a9a9a"/>
<rect x="584" y="266.6" width="6" height="1.4" fill="#444"/>
<rect x="582.4" y="269" width="0.6" height="103.5" fill="#bcbcbc"/>
<rect x="585.2" y="269" width="0.6" height="103.5" fill="#bcbcbc"/>
<rect x="593.8" y="269" width="0.6" height="103.5" fill="#bcbcbc"/>
<rect x="578.3" y="269.90" width="3.6" height="1.1" fill="#8c8c8c"/>
<rect x="583" y="269.90" width="1.6" height="1.1" fill="#a0a0a0"/>
<rect x="586.2" y="269.90" width="6.2" height="1.1" fill="#888"/>
<rect x="578.3" y="272.48" width="3.6" height="1.1" fill="#8c8c8c"/>
<rect x="583" y="272.48" width="1.6" height="1.1" fill="#a0a0a0"/>
<rect x="586.2" y="272.48" width="6.8" height="1.1" fill="#888"/>
<rect x="578.3" y="275.06" width="3.6" height="1.1" fill="#8c8c8c"/>
<rect x="583" y="275.06" width="1.6" height="1.1" fill="#a0a0a0"/>
<rect x="586.2" y="275.06" width="7.4" height="1.1" fill="#888"/>
<rect x="578.3" y="277.65" width="3.6" height="1.1" fill="#8c8c8c"/>
<rect x="583" y="277.65" width="1.6" height="1.1" fill="#a0a0a0"/>
<rect x="586.2" y="277.65" width="6.2" height="1.1" fill="#888"/>
<rect x="578.3" y="280.23" width="3.6" height="1.1" fill="#8c8c8c"/>
<rect x="583" y="280.23" width="1.6" height="1.1" fill="#a0a0a0"/>
<rect x="586.2" y="280.23" width="6.8" height="1.1" fill="#888"/>
<rect x="578.3" y="282.81" width="3.6" height="1.1" fill="#8c8c8c"/>
<rect x="583" y="282.81" width="1.6" height="1.1" fill="#a0a0a0"/>
<rect x="586.2" y="282.81" width="7.4" height="1.1" fill="#888"/>
<rect x="578.3" y="285.39" width="3.6" height="1.1" fill="#8c8c8c"/>
<rect x="583" y="285.39" width="1.6" height="1.1" fill="#a0a0a0"/>
<rect x="586.2" y="285.39" width="6.2" height="1.1" fill="#888"/>
<rect x="578.3" y="287.98" width="3.6" height="1.1" fill="#8c8c8c"/>
<rect x="583" y="287.98" width="1.6" height="1.1" fill="#a0a0a0"/>
<rect x="586.2" y="287.98" width="6.8" height="1.1" fill="#888"/>
<rect x="578.3" y="290.56" width="3.6" height="1.1" fill="#8c8c8c"/>
<rect x="583" y="290.56" width="1.6" height="1.1" fill="#a0a0a0"/>
<rect x="586.2" y="290.56" width="7.4" height="1.1" fill="#888"/>
<rect x="578.3" y="293.14" width="3.6" height="1.1" fill="#8c8c8c"/>
<rect x="583" y="293.14" width="1.6" height="1.1" fill="#a0a0a0"/>
<rect x="586.2" y="293.14" width="6.2" height="1.1" fill="#888"/>
<rect x="578.3" y="295.72" width="3.6" height="1.1" fill="#8c8c8c"/>
<rect x="583" y="295.72" width="1.6" height="1.1" fill="#a0a0a0"/>
<rect x="586.2" y="295.72" width="6.8" height="1.1" fill="#888"/>
<rect x="578.3" y="298.31" width="3.6" height="1.1" fill="#8c8c8c"/>
<rect x="583" y="298.31" width="1.6" height="1.1" fill="#a0a0a0"/>
<rect x="586.2" y="298.31" width="7.4" height="1.1" fill="#888"/>
<rect x="578.3" y="300.89" width="3.6" height="1.1" fill="#8c8c8c"/>
<rect x="583" y="300.89" width="1.6" height="1.1" fill="#a0a0a0"/>
<rect x="586.2" y="300.89" width="6.2" height="1.1" fill="#888"/>
<rect x="578.3" y="303.47" width="3.6" height="1.1" fill="#8c8c8c"/>
<rect x="583" y="303.47" width="1.6" height="1.1" fill="#a0a0a0"/>
<rect x="586.2" y="303.47" width="6.8" height="1.1" fill="#888"/>
<rect x="578.3" y="306.06" width="3.6" height="1.1" fill="#8c8c8c"/>
<rect x="583" y="306.06" width="1.6" height="1.1" fill="#a0a0a0"/>
<rect x="586.2" y="306.06" width="7.4" height="1.1" fill="#888"/>
<rect x="578.3" y="308.64" width="3.6" height="1.1" fill="#8c8c8c"/>
<rect x="583" y="308.64" width="1.6" height="1.1" fill="#a0a0a0"/>
<rect x="586.2" y="308.64" width="6.2" height="1.1" fill="#888"/>
<rect x="578.3" y="311.22" width="3.6" height="1.1" fill="#8c8c8c"/>
<rect x="583" y="311.22" width="1.6" height="1.1" fill="#a0a0a0"/>
<rect x="586.2" y="311.22" width="6.8" height="1.1" fill="#888"/>
<rect x="578.3" y="313.80" width="3.6" height="1.1" fill="#8c8c8c"/>
<rect x="583" y="313.80" width="1.6" height="1.1" fill="#a0a0a0"/>
<rect x="586.2" y="313.80" width="7.4" height="1.1" fill="#888"/>
<rect x="578.3" y="316.38" width="3.6" height="1.1" fill="#8c8c8c"/>
<rect x="583" y="316.38" width="1.6" height="1.1" fill="#a0a0a0"/>
<rect x="586.2" y="316.38" width="6.2" height="1.1" fill="#888"/>
<rect x="578.3" y="318.97" width="3.6" height="1.1" fill="#8c8c8c"/>
<rect x="583" y="318.97" width="1.6" height="1.1" fill="#a0a0a0"/>
<rect x="586.2" y="318.97" width="6.8" height="1.1" fill="#888"/>
<rect x="578.3" y="321.55" width="3.6" height="1.1" fill="#8c8c8c"/>
<rect x="583" y="321.55" width="1.6" height="1.1" fill="#a0a0a0"/>
<rect x="586.2" y="321.55" width="7.4" height="1.1" fill="#888"/>
<rect x="578.3" y="324.13" width="3.6" height="1.1" fill="#8c8c8c"/>
<rect x="583" y="324.13" width="1.6" height="1.1" fill="#a0a0a0"/>
<rect x="586.2" y="324.13" width="6.2" height="1.1" fill="#888"/>
<rect x="578.3" y="326.71" width="3.6" height="1.1" fill="#8c8c8c"/>
<rect x="583" y="326.71" width="1.6" height="1.1" fill="#a0a0a0"/>
<rect x="586.2" y="326.71" width="6.8" height="1.1" fill="#888"/>
<rect x="578.3" y="329.30" width="3.6" height="1.1" fill="#8c8c8c"/>
<rect x="583" y="329.30" width="1.6" height="1.1" fill="#a0a0a0"/>
<rect x="586.2" y="329.30" width="7.4" height="1.1" fill="#888"/>
<rect x="578.3" y="331.88" width="3.6" height="1.1" fill="#8c8c8c"/>
<rect x="583" y="331.88" width="1.6" height="1.1" fill="#a0a0a0"/>
<rect x="586.2" y="331.88" width="6.2" height="1.1" fill="#888"/>
<rect x="578.3" y="334.46" width="3.6" height="1.1" fill="#8c8c8c"/>
<rect x="583" y="334.46" width="1.6" height="1.1" fill="#a0a0a0"/>
<rect x="586.2" y="334.46" width="6.8" height="1.1" fill="#888"/>
<rect x="578.3" y="337.04" width="3.6" height="1.1" fill="#8c8c8c"/>
<rect x="583" y="337.04" width="1.6" height="1.1" fill="#a0a0a0"/>
<rect x="586.2" y="337.04" width="7.4" height="1.1" fill="#888"/>
<rect x="578.3" y="339.63" width="3.6" height="1.1" fill="#8c8c8c"/>
<rect x="583" y="339.63" width="1.6" height="1.1" fill="#a0a0a0"/>
<rect x="586.2" y="339.63" width="6.2" height="1.1" fill="#888"/>
<rect x="578.3" y="342.21" width="3.6" height="1.1" fill="#8c8c8c"/>
<rect x="583" y="342.21" width="1.6" height="1.1" fill="#a0a0a0"/>
<rect x="586.2" y="342.21" width="6.8" height="1.1" fill="#888"/>
<rect x="578.3" y="344.79" width="3.6" height="1.1" fill="#8c8c8c"/>
<rect x="583" y="344.79" width="1.6" height="1.1" fill="#a0a0a0"/>
<rect x="586.2" y="344.79" width="7.4" height="1.1" fill="#888"/>
<rect x="578.3" y="347.37" width="3.6" height="1.1" fill="#8c8c8c"/>
<rect x="583" y="347.37" width="1.6" height="1.1" fill="#a0a0a0"/>
<rect x="586.2" y="347.37" width="6.2" height="1.1" fill="#888"/>
<rect x="578.3" y="349.96" width="3.6" height="1.1" fill="#8c8c8c"/>
<rect x="583" y="349.96" width="1.6" height="1.1" fill="#a0a0a0"/>
<rect x="586.2" y="349.96" width="6.8" height="1.1" fill="#888"/>
<rect x="578.3" y="352.54" width="3.6" height="1.1" fill="#8c8c8c"/>
<rect x="583" y="352.54" width="1.6" height="1.1" fill="#a0a0a0"/>
<rect x="586.2" y="352.54" width="7.4" height="1.1" fill="#888"/>
<rect x="578.3" y="355.12" width="3.6" height="1.1" fill="#8c8c8c"/>
<rect x="583" y="355.12" width="1.6" height="1.1" fill="#a0a0a0"/>
<rect x="586.2" y="355.12" width="6.2" height="1.1" fill="#888"/>
<rect x="578.3" y="357.70" width="3.6" height="1.1" fill="#8c8c8c"/>
<rect x="583" y="357.70" width="1.6" height="1.1" fill="#a0a0a0"/>
<rect x="586.2" y="357.70" width="6.8" height="1.1" fill="#888"/>
<rect x="578.3" y="360.29" width="3.6" height="1.1" fill="#8c8c8c"/>
<rect x="583" y="360.29" width="1.6" height="1.1" fill="#a0a0a0"/>
<rect x="586.2" y="360.29" width="7.4" height="1.1" fill="#888"/>
<rect x="578.3" y="362.87" width="3.6" height="1.1" fill="#8c8c8c"/>
<rect x="583" y="362.87" width="1.6" height="1.1" fill="#a0a0a0"/>
<rect x="586.2" y="362.87" width="6.2" height="1.1" fill="#888"/>
<rect x="578.3" y="365.45" width="3.6" height="1.1" fill="#8c8c8c"/>
<rect x="583" y="365.45" width="1.6" height="1.1" fill="#a0a0a0"/>
<rect x="586.2" y="365.45" width="6.8" height="1.1" fill="#888"/>
<rect x="578.3" y="368.03" width="3.6" height="1.1" fill="#8c8c8c"/>
<rect x="583" y="368.03" width="1.6" height="1.1" fill="#a0a0a0"/>
<rect x="586.2" y="368.03" width="7.4" height="1.1" fill="#888"/>
<rect x="578.3" y="370.62" width="3.6" height="1.1" fill="#8c8c8c"/>
<rect x="583" y="370.62" width="1.6" height="1.1" fill="#a0a0a0"/>
<rect x="586.2" y="370.62" width="6.2" height="1.1" fill="#888"/>
<g>
<rect x="596.2" y="269.2" width="77.6" height="103.3" fill="#606060"/>
<rect x="596.20" y="269.20" width="9.75" height="2.63" fill="#ff0000"/>
<rect x="605.90" y="269.20" width="9.75" height="2.63" fill="#00e600"/>
<rect x="615.60" y="269.20" width="9.75" height="2.63" fill="#00e600"/>
<rect x="625.30" y="269.20" width="9.75" height="2.63" fill="#3a58e8"/>
<rect x="635.00" y="269.20" width="9.75" height="2.63" fill="#3a58e8"/>
<rect x="644.70" y="269.20" width="9.75" height="2.63" fill="#00e600"/>
<rect x="654.40" y="269.20" width="9.75" height="2.63" fill="#00e600"/>
<rect x="664.10" y="269.20" width="9.75" height="2.63" fill="#3a58e8"/>
<rect x="596.20" y="271.78" width="9.75" height="2.63" fill="#ff0000"/>
<rect x="605.90" y="271.78" width="9.75" height="2.63" fill="#ff0000"/>
<rect x="615.60" y="271.78" width="9.75" height="2.63" fill="#ff0000"/>
<rect x="625.30" y="271.78" width="9.75" height="2.63" fill="#ff0000"/>
<rect x="635.00" y="271.78" width="9.75" height="2.63" fill="#ff0000"/>
<rect x="644.70" y="271.78" width="9.75" height="2.63" fill="#ff0000"/>
<rect x="654.40" y="271.78" width="9.75" height="2.63" fill="#ff0000"/>
<rect x="664.10" y="271.78" width="9.75" height="2.63" fill="#ff0000"/>
<rect x="596.20" y="274.37" width="9.75" height="2.63" fill="#ff0000"/>
<rect x="605.90" y="274.37" width="9.75" height="2.63" fill="#ff0000"/>
<rect x="615.60" y="274.37" width="9.75" height="2.63" fill="#ff0000"/>
<rect x="625.30" y="274.37" width="9.75" height="2.63" fill="#ff0000"/>
<rect x="635.00" y="274.37" width="9.75" height="2.63" fill="#ff0000"/>
<rect x="644.70" y="274.37" width="9.75" height="2.63" fill="#ff0000"/>
<rect x="654.40" y="274.37" width="9.75" height="2.63" fill="#ff0000"/>
<rect x="664.10" y="274.37" width="9.75" height="2.63" fill="#ff0000"/>
<rect x="596.20" y="276.95" width="9.75" height="2.63" fill="#00e600"/>
<rect x="605.90" y="276.95" width="9.75" height="2.63" fill="#3a58e8"/>
<rect x="615.60" y="276.95" width="9.75" height="2.63" fill="#ff0000"/>
<rect x="625.30" y="276.95" width="9.75" height="2.63" fill="#00e600"/>
<rect x="635.00" y="276.95" width="9.75" height="2.63" fill="#ff0000"/>
<rect x="644.70" y="276.95" width="9.75" height="2.63" fill="#00e600"/>
<rect x="654.40" y="276.95" width="9.75" height="2.63" fill="#3a58e8"/>
<rect x="664.10" y="276.95" width="9.75" height="2.63" fill="#00e600"/>
<rect x="596.20" y="279.53" width="9.75" height="2.63" fill="#3a58e8"/>
<rect x="605.90" y="279.53" width="9.75" height="2.63" fill="#00e600"/>
<rect x="615.60" y="279.53" width="9.75" height="2.63" fill="#3a58e8"/>
<rect x="625.30" y="279.53" width="9.75" height="2.63" fill="#00e600"/>
<rect x="635.00" y="279.53" width="9.75" height="2.63" fill="#00e600"/>
<rect x="644.70" y="279.53" width="9.75" height="2.63" fill="#00e600"/>
<rect x="654.40" y="279.53" width="9.75" height="2.63" fill="#00e600"/>
<rect x="664.10" y="279.53" width="9.75" height="2.63" fill="#00e600"/>
<rect x="596.20" y="282.11" width="9.75" height="2.63" fill="#3a58e8"/>
<rect x="605.90" y="282.11" width="9.75" height="2.63" fill="#00e600"/>
<rect x="615.60" y="282.11" width="9.75" height="2.63" fill="#3a58e8"/>
<rect x="625.30" y="282.11" width="9.75" height="2.63" fill="#00e600"/>
<rect x="635.00" y="282.11" width="9.75" height="2.63" fill="#00e600"/>
<rect x="644.70" y="282.11" width="9.75" height="2.63" fill="#00e600"/>
<rect x="654.40" y="282.11" width="9.75" height="2.63" fill="#00e600"/>
<rect x="664.10" y="282.11" width="9.75" height="2.63" fill="#00e600"/>
<rect x="596.20" y="284.69" width="9.75" height="2.63" fill="#ff0000"/>
<rect x="605.90" y="284.69" width="9.75" height="2.63" fill="#ff0000"/>
<rect x="615.60" y="284.69" width="9.75" height="2.63" fill="#ff0000"/>
<rect x="625.30" y="284.69" width="9.75" height="2.63" fill="#00e600"/>
<rect x="635.00" y="284.69" width="9.75" height="2.63" fill="#3a58e8"/>
<rect x="644.70" y="284.69" width="9.75" height="2.63" fill="#ff0000"/>
<rect x="654.40" y="284.69" width="9.75" height="2.63" fill="#ff0000"/>
<rect x="664.10" y="284.69" width="9.75" height="2.63" fill="#ff0000"/>
<rect x="596.20" y="287.28" width="9.75" height="2.63" fill="#00e600"/>
<rect x="605.90" y="287.28" width="9.75" height="2.63" fill="#ff0000"/>
<rect x="615.60" y="287.28" width="9.75" height="2.63" fill="#00e600"/>
<rect x="625.30" y="287.28" width="9.75" height="2.63" fill="#00e600"/>
<rect x="635.00" y="287.28" width="9.75" height="2.63" fill="#00e600"/>
<rect x="644.70" y="287.28" width="9.75" height="2.63" fill="#00e600"/>
<rect x="654.40" y="287.28" width="9.75" height="2.63" fill="#00e600"/>
<rect x="664.10" y="287.28" width="9.75" height="2.63" fill="#00e600"/>
<rect x="596.20" y="289.86" width="9.75" height="2.63" fill="#3a58e8"/>
<rect x="605.90" y="289.86" width="9.75" height="2.63" fill="#ff0000"/>
<rect x="615.60" y="289.86" width="9.75" height="2.63" fill="#ff0000"/>
<rect x="625.30" y="289.86" width="9.75" height="2.63" fill="#00e600"/>
<rect x="635.00" y="289.86" width="9.75" height="2.63" fill="#3a58e8"/>
<rect x="644.70" y="289.86" width="9.75" height="2.63" fill="#00e600"/>
<rect x="654.40" y="289.86" width="9.75" height="2.63" fill="#3a58e8"/>
<rect x="664.10" y="289.86" width="9.75" height="2.63" fill="#3a58e8"/>
<rect x="596.20" y="292.44" width="9.75" height="2.63" fill="#ff0000"/>
<rect x="605.90" y="292.44" width="9.75" height="2.63" fill="#3a58e8"/>
<rect x="615.60" y="292.44" width="9.75" height="2.63" fill="#ff0000"/>
<rect x="625.30" y="292.44" width="9.75" height="2.63" fill="#00e600"/>
<rect x="635.00" y="292.44" width="9.75" height="2.63" fill="#00e600"/>
<rect x="644.70" y="292.44" width="9.75" height="2.63" fill="#ff0000"/>
<rect x="654.40" y="292.44" width="9.75" height="2.63" fill="#00e600"/>
<rect x="664.10" y="292.44" width="9.75" height="2.63" fill="#3a58e8"/>
<rect x="596.20" y="295.02" width="9.75" height="2.63" fill="#ff0000"/>
<rect x="605.90" y="295.02" width="9.75" height="2.63" fill="#3a58e8"/>
<rect x="615.60" y="295.02" width="9.75" height="2.63" fill="#ff0000"/>
<rect x="625.30" y="295.02" width="9.75" height="2.63" fill="#00e600"/>
<rect x="635.00" y="295.02" width="9.75" height="2.63" fill="#00e600"/>
<rect x="644.70" y="295.02" width="9.75" height="2.63" fill="#ff0000"/>
<rect x="654.40" y="295.02" width="9.75" height="2.63" fill="#00e600"/>
<rect x="664.10" y="295.02" width="9.75" height="2.63" fill="#3a58e8"/>
<rect x="596.20" y="297.61" width="9.75" height="2.63" fill="#ff0000"/>
<rect x="605.90" y="297.61" width="9.75" height="2.63" fill="#ff0000"/>
<rect x="615.60" y="297.61" width="9.75" height="2.63" fill="#ff0000"/>
<rect x="625.30" y="297.61" width="9.75" height="2.63" fill="#ff0000"/>
<rect x="635.00" y="297.61" width="9.75" height="2.63" fill="#ff0000"/>
<rect x="644.70" y="297.61" width="9.75" height="2.63" fill="#ff0000"/>
<rect x="654.40" y="297.61" width="9.75" height="2.63" fill="#ff0000"/>
<rect x="664.10" y="297.61" width="9.75" height="2.63" fill="#ff0000"/>
<rect x="596.20" y="300.19" width="9.75" height="2.63" fill="#00e600"/>
<rect x="605.90" y="300.19" width="9.75" height="2.63" fill="#00e600"/>
<rect x="615.60" y="300.19" width="9.75" height="2.63" fill="#00e600"/>
<rect x="625.30" y="300.19" width="9.75" height="2.63" fill="#00e600"/>
<rect x="635.00" y="300.19" width="9.75" height="2.63" fill="#00e600"/>
<rect x="644.70" y="300.19" width="9.75" height="2.63" fill="#00e600"/>
<rect x="654.40" y="300.19" width="9.75" height="2.63" fill="#00e600"/>
<rect x="664.10" y="300.19" width="9.75" height="2.63" fill="#00e600"/>
<rect x="596.20" y="302.77" width="9.75" height="2.63" fill="#3a58e8"/>
<rect x="605.90" y="302.77" width="9.75" height="2.63" fill="#3a58e8"/>
<rect x="615.60" y="302.77" width="9.75" height="2.63" fill="#ff0000"/>
<rect x="625.30" y="302.77" width="9.75" height="2.63" fill="#00e600"/>
<rect x="635.00" y="302.77" width="9.75" height="2.63" fill="#00e600"/>
<rect x="644.70" y="302.77" width="9.75" height="2.63" fill="#3a58e8"/>
<rect x="654.40" y="302.77" width="9.75" height="2.63" fill="#00e600"/>
<rect x="664.10" y="302.77" width="9.75" height="2.63" fill="#00e600"/>
<rect x="596.20" y="305.36" width="9.75" height="2.63" fill="#00e600"/>
<rect x="605.90" y="305.36" width="9.75" height="2.63" fill="#00e600"/>
<rect x="615.60" y="305.36" width="9.75" height="2.63" fill="#00e600"/>
<rect x="625.30" y="305.36" width="9.75" height="2.63" fill="#00e600"/>
<rect x="635.00" y="305.36" width="9.75" height="2.63" fill="#00e600"/>
<rect x="644.70" y="305.36" width="9.75" height="2.63" fill="#ff0000"/>
<rect x="654.40" y="305.36" width="9.75" height="2.63" fill="#00e600"/>
<rect x="664.10" y="305.36" width="9.75" height="2.63" fill="#3a58e8"/>
<rect x="596.20" y="307.94" width="9.75" height="2.63" fill="#3a58e8"/>
<rect x="605.90" y="307.94" width="9.75" height="2.63" fill="#3a58e8"/>
<rect x="615.60" y="307.94" width="9.75" height="2.63" fill="#00e600"/>
<rect x="625.30" y="307.94" width="9.75" height="2.63" fill="#00e600"/>
<rect x="635.00" y="307.94" width="9.75" height="2.63" fill="#00e600"/>
<rect x="644.70" y="307.94" width="9.75" height="2.63" fill="#00e600"/>
<rect x="654.40" y="307.94" width="9.75" height="2.63" fill="#3a58e8"/>
<rect x="664.10" y="307.94" width="9.75" height="2.63" fill="#00e600"/>
<rect x="596.20" y="310.52" width="9.75" height="2.63" fill="#00e600"/>
<rect x="605.90" y="310.52" width="9.75" height="2.63" fill="#3a58e8"/>
<rect x="615.60" y="310.52" width="9.75" height="2.63" fill="#00e600"/>
<rect x="625.30" y="310.52" width="9.75" height="2.63" fill="#00e600"/>
<rect x="635.00" y="310.52" width="9.75" height="2.63" fill="#00e600"/>
<rect x="644.70" y="310.52" width="9.75" height="2.63" fill="#3a58e8"/>
<rect x="654.40" y="310.52" width="9.75" height="2.63" fill="#ff0000"/>
<rect x="664.10" y="310.52" width="9.75" height="2.63" fill="#00e600"/>
<rect x="596.20" y="313.10" width="9.75" height="2.63" fill="#00e600"/>
<rect x="605.90" y="313.10" width="9.75" height="2.63" fill="#00e600"/>
<rect x="615.60" y="313.10" width="9.75" height="2.63" fill="#00e600"/>
<rect x="625.30" y="313.10" width="9.75" height="2.63" fill="#00e600"/>
<rect x="635.00" y="313.10" width="9.75" height="2.63" fill="#00e600"/>
<rect x="644.70" y="313.10" width="9.75" height="2.63" fill="#00e600"/>
<rect x="654.40" y="313.10" width="9.75" height="2.63" fill="#00e600"/>
<rect x="664.10" y="313.10" width="9.75" height="2.63" fill="#00e600"/>
<rect x="596.20" y="315.69" width="9.75" height="2.63" fill="#00e600"/>
<rect x="605.90" y="315.69" width="9.75" height="2.63" fill="#00e600"/>
<rect x="615.60" y="315.69" width="9.75" height="2.63" fill="#00e600"/>
<rect x="625.30" y="315.69" width="9.75" height="2.63" fill="#00e600"/>
<rect x="635.00" y="315.69" width="9.75" height="2.63" fill="#00e600"/>
<rect x="644.70" y="315.69" width="9.75" height="2.63" fill="#00e600"/>
<rect x="654.40" y="315.69" width="9.75" height="2.63" fill="#00e600"/>
<rect x="664.10" y="315.69" width="9.75" height="2.63" fill="#00e600"/>
<rect x="596.20" y="318.27" width="9.75" height="2.63" fill="#00e600"/>
<rect x="605.90" y="318.27" width="9.75" height="2.63" fill="#3a58e8"/>
<rect x="615.60" y="318.27" width="9.75" height="2.63" fill="#3a58e8"/>
<rect x="625.30" y="318.27" width="9.75" height="2.63" fill="#00e600"/>
<rect x="635.00" y="318.27" width="9.75" height="2.63" fill="#00e600"/>
<rect x="644.70" y="318.27" width="9.75" height="2.63" fill="#00e600"/>
<rect x="654.40" y="318.27" width="9.75" height="2.63" fill="#3a58e8"/>
<rect x="664.10" y="318.27" width="9.75" height="2.63" fill="#ff0000"/>
<rect x="596.20" y="320.85" width="9.75" height="2.63" fill="#3a58e8"/>
<rect x="605.90" y="320.85" width="9.75" height="2.63" fill="#00e600"/>
<rect x="615.60" y="320.85" width="9.75" height="2.63" fill="#3a58e8"/>
<rect x="625.30" y="320.85" width="9.75" height="2.63" fill="#3a58e8"/>
<rect x="635.00" y="320.85" width="9.75" height="2.63" fill="#ff0000"/>
<rect x="644.70" y="320.85" width="9.75" height="2.63" fill="#3a58e8"/>
<rect x="654.40" y="320.85" width="9.75" height="2.63" fill="#3a58e8"/>
<rect x="664.10" y="320.85" width="9.75" height="2.63" fill="#00e600"/>
<rect x="596.20" y="323.43" width="9.75" height="2.63" fill="#3a58e8"/>
<rect x="605.90" y="323.43" width="9.75" height="2.63" fill="#ff0000"/>
<rect x="615.60" y="323.43" width="9.75" height="2.63" fill="#ff0000"/>
<rect x="625.30" y="323.43" width="9.75" height="2.63" fill="#ff0000"/>
<rect x="635.00" y="323.43" width="9.75" height="2.63" fill="#3a58e8"/>
<rect x="644.70" y="323.43" width="9.75" height="2.63" fill="#ff0000"/>
<rect x="654.40" y="323.43" width="9.75" height="2.63" fill="#ff0000"/>
<rect x="664.10" y="323.43" width="9.75" height="2.63" fill="#ff0000"/>
<rect x="596.20" y="326.01" width="9.75" height="2.63" fill="#3a58e8"/>
<rect x="605.90" y="326.01" width="9.75" height="2.63" fill="#00e600"/>
<rect x="615.60" y="326.01" width="9.75" height="2.63" fill="#00e600"/>
<rect x="625.30" y="326.01" width="9.75" height="2.63" fill="#3a58e8"/>
<rect x="635.00" y="326.01" width="9.75" height="2.63" fill="#3a58e8"/>
<rect x="644.70" y="326.01" width="9.75" height="2.63" fill="#00e600"/>
<rect x="654.40" y="326.01" width="9.75" height="2.63" fill="#00e600"/>
<rect x="664.10" y="326.01" width="9.75" height="2.63" fill="#00e600"/>
<rect x="596.20" y="328.60" width="9.75" height="2.63" fill="#ff0000"/>
<rect x="605.90" y="328.60" width="9.75" height="2.63" fill="#00e600"/>
<rect x="615.60" y="328.60" width="9.75" height="2.63" fill="#00e600"/>
<rect x="625.30" y="328.60" width="9.75" height="2.63" fill="#3a58e8"/>
<rect x="635.00" y="328.60" width="9.75" height="2.63" fill="#3a58e8"/>
<rect x="644.70" y="328.60" width="9.75" height="2.63" fill="#00e600"/>
<rect x="654.40" y="328.60" width="9.75" height="2.63" fill="#00e600"/>
<rect x="664.10" y="328.60" width="9.75" height="2.63" fill="#3a58e8"/>
<rect x="596.20" y="331.18" width="9.75" height="2.63" fill="#ff0000"/>
<rect x="605.90" y="331.18" width="9.75" height="2.63" fill="#ff0000"/>
<rect x="615.60" y="331.18" width="9.75" height="2.63" fill="#ff0000"/>
<rect x="625.30" y="331.18" width="9.75" height="2.63" fill="#ff0000"/>
<rect x="635.00" y="331.18" width="9.75" height="2.63" fill="#ff0000"/>
<rect x="644.70" y="331.18" width="9.75" height="2.63" fill="#ff0000"/>
<rect x="654.40" y="331.18" width="9.75" height="2.63" fill="#ff0000"/>
<rect x="664.10" y="331.18" width="9.75" height="2.63" fill="#ff0000"/>
<rect x="596.20" y="333.76" width="9.75" height="2.63" fill="#3a58e8"/>
<rect x="605.90" y="333.76" width="9.75" height="2.63" fill="#ff0000"/>
<rect x="615.60" y="333.76" width="9.75" height="2.63" fill="#ff0000"/>
<rect x="625.30" y="333.76" width="9.75" height="2.63" fill="#ff0000"/>
<rect x="635.00" y="333.76" width="9.75" height="2.63" fill="#3a58e8"/>
<rect x="644.70" y="333.76" width="9.75" height="2.63" fill="#ff0000"/>
<rect x="654.40" y="333.76" width="9.75" height="2.63" fill="#ff0000"/>
<rect x="664.10" y="333.76" width="9.75" height="2.63" fill="#ff0000"/>
<rect x="596.20" y="336.34" width="9.75" height="2.63" fill="#3a58e8"/>
<rect x="605.90" y="336.34" width="9.75" height="2.63" fill="#3a58e8"/>
<rect x="615.60" y="336.34" width="9.75" height="2.63" fill="#3a58e8"/>
<rect x="625.30" y="336.34" width="9.75" height="2.63" fill="#3a58e8"/>
<rect x="635.00" y="336.34" width="9.75" height="2.63" fill="#ff0000"/>
<rect x="644.70" y="336.34" width="9.75" height="2.63" fill="#ff0000"/>
<rect x="654.40" y="336.34" width="9.75" height="2.63" fill="#3a58e8"/>
<rect x="664.10" y="336.34" width="9.75" height="2.63" fill="#3a58e8"/>
<rect x="596.20" y="338.93" width="9.75" height="2.63" fill="#00e600"/>
<rect x="605.90" y="338.93" width="9.75" height="2.63" fill="#00e600"/>
<rect x="615.60" y="338.93" width="9.75" height="2.63" fill="#00e600"/>
<rect x="625.30" y="338.93" width="9.75" height="2.63" fill="#00e600"/>
<rect x="635.00" y="338.93" width="9.75" height="2.63" fill="#00e600"/>
<rect x="644.70" y="338.93" width="9.75" height="2.63" fill="#00e600"/>
<rect x="654.40" y="338.93" width="9.75" height="2.63" fill="#00e600"/>
<rect x="664.10" y="338.93" width="9.75" height="2.63" fill="#00e600"/>
<rect x="596.20" y="341.51" width="9.75" height="2.63" fill="#ff0000"/>
<rect x="605.90" y="341.51" width="9.75" height="2.63" fill="#ff0000"/>
<rect x="615.60" y="341.51" width="9.75" height="2.63" fill="#ff0000"/>
<rect x="625.30" y="341.51" width="9.75" height="2.63" fill="#ff0000"/>
<rect x="635.00" y="341.51" width="9.75" height="2.63" fill="#ff0000"/>
<rect x="644.70" y="341.51" width="9.75" height="2.63" fill="#ff0000"/>
<rect x="654.40" y="341.51" width="9.75" height="2.63" fill="#ff0000"/>
<rect x="664.10" y="341.51" width="9.75" height="2.63" fill="#ff0000"/>
<rect x="596.20" y="344.09" width="9.75" height="2.63" fill="#3a58e8"/>
<rect x="605.90" y="344.09" width="9.75" height="2.63" fill="#ff0000"/>
<rect x="615.60" y="344.09" width="9.75" height="2.63" fill="#3a58e8"/>
<rect x="625.30" y="344.09" width="9.75" height="2.63" fill="#3a58e8"/>
<rect x="635.00" y="344.09" width="9.75" height="2.63" fill="#3a58e8"/>
<rect x="644.70" y="344.09" width="9.75" height="2.63" fill="#ff0000"/>
<rect x="654.40" y="344.09" width="9.75" height="2.63" fill="#ff0000"/>
<rect x="664.10" y="344.09" width="9.75" height="2.63" fill="#3a58e8"/>
<rect x="596.20" y="346.67" width="9.75" height="2.63" fill="#3a58e8"/>
<rect x="605.90" y="346.67" width="9.75" height="2.63" fill="#3a58e8"/>
<rect x="615.60" y="346.67" width="9.75" height="2.63" fill="#ff0000"/>
<rect x="625.30" y="346.67" width="9.75" height="2.63" fill="#3a58e8"/>
<rect x="635.00" y="346.67" width="9.75" height="2.63" fill="#ff0000"/>
<rect x="644.70" y="346.67" width="9.75" height="2.63" fill="#ff0000"/>
<rect x="654.40" y="346.67" width="9.75" height="2.63" fill="#ff0000"/>
<rect x="664.10" y="346.67" width="9.75" height="2.63" fill="#ff0000"/>
<rect x="596.20" y="349.26" width="9.75" height="2.63" fill="#ff0000"/>
<rect x="605.90" y="349.26" width="9.75" height="2.63" fill="#3a58e8"/>
<rect x="615.60" y="349.26" width="9.75" height="2.63" fill="#00e600"/>
<rect x="625.30" y="349.26" width="9.75" height="2.63" fill="#3a58e8"/>
<rect x="635.00" y="349.26" width="9.75" height="2.63" fill="#ff0000"/>
<rect x="644.70" y="349.26" width="9.75" height="2.63" fill="#00e600"/>
<rect x="654.40" y="349.26" width="9.75" height="2.63" fill="#00e600"/>
<rect x="664.10" y="349.26" width="9.75" height="2.63" fill="#ff0000"/>
<rect x="596.20" y="351.84" width="9.75" height="2.63" fill="#ff0000"/>
<rect x="605.90" y="351.84" width="9.75" height="2.63" fill="#ff0000"/>
<rect x="615.60" y="351.84" width="9.75" height="2.63" fill="#ff0000"/>
<rect x="625.30" y="351.84" width="9.75" height="2.63" fill="#ff0000"/>
<rect x="635.00" y="351.84" width="9.75" height="2.63" fill="#ff0000"/>
<rect x="644.70" y="351.84" width="9.75" height="2.63" fill="#ff0000"/>
<rect x="654.40" y="351.84" width="9.75" height="2.63" fill="#ff0000"/>
<rect x="664.10" y="351.84" width="9.75" height="2.63" fill="#ff0000"/>
<rect x="596.20" y="354.42" width="9.75" height="2.63" fill="#00e600"/>
<rect x="605.90" y="354.42" width="9.75" height="2.63" fill="#00e600"/>
<rect x="615.60" y="354.42" width="9.75" height="2.63" fill="#00e600"/>
<rect x="625.30" y="354.42" width="9.75" height="2.63" fill="#00e600"/>
<rect x="635.00" y="354.42" width="9.75" height="2.63" fill="#00e600"/>
<rect x="644.70" y="354.42" width="9.75" height="2.63" fill="#00e600"/>
<rect x="654.40" y="354.42" width="9.75" height="2.63" fill="#00e600"/>
<rect x="664.10" y="354.42" width="9.75" height="2.63" fill="#00e600"/>
<rect x="596.20" y="357.00" width="9.75" height="2.63" fill="#ff0000"/>
<rect x="605.90" y="357.00" width="9.75" height="2.63" fill="#ff0000"/>
<rect x="615.60" y="357.00" width="9.75" height="2.63" fill="#3a58e8"/>
<rect x="625.30" y="357.00" width="9.75" height="2.63" fill="#ff0000"/>
<rect x="635.00" y="357.00" width="9.75" height="2.63" fill="#ff0000"/>
<rect x="644.70" y="357.00" width="9.75" height="2.63" fill="#3a58e8"/>
<rect x="654.40" y="357.00" width="9.75" height="2.63" fill="#3a58e8"/>
<rect x="664.10" y="357.00" width="9.75" height="2.63" fill="#ff0000"/>
<rect x="596.20" y="359.59" width="9.75" height="2.63" fill="#3a58e8"/>
<rect x="605.90" y="359.59" width="9.75" height="2.63" fill="#00e600"/>
<rect x="615.60" y="359.59" width="9.75" height="2.63" fill="#3a58e8"/>
<rect x="625.30" y="359.59" width="9.75" height="2.63" fill="#3a58e8"/>
<rect x="635.00" y="359.59" width="9.75" height="2.63" fill="#ff0000"/>
<rect x="644.70" y="359.59" width="9.75" height="2.63" fill="#3a58e8"/>
<rect x="654.40" y="359.59" width="9.75" height="2.63" fill="#00e600"/>
<rect x="664.10" y="359.59" width="9.75" height="2.63" fill="#00e600"/>
<rect x="596.20" y="362.17" width="9.75" height="2.63" fill="#3a58e8"/>
<rect x="605.90" y="362.17" width="9.75" height="2.63" fill="#ff0000"/>
<rect x="615.60" y="362.17" width="9.75" height="2.63" fill="#ff0000"/>
<rect x="625.30" y="362.17" width="9.75" height="2.63" fill="#ff0000"/>
<rect x="635.00" y="362.17" width="9.75" height="2.63" fill="#ff0000"/>
<rect x="644.70" y="362.17" width="9.75" height="2.63" fill="#ff0000"/>
<rect x="654.40" y="362.17" width="9.75" height="2.63" fill="#ff0000"/>
<rect x="664.10" y="362.17" width="9.75" height="2.63" fill="#ff0000"/>
<rect x="596.20" y="364.75" width="9.75" height="2.63" fill="#3a58e8"/>
<rect x="605.90" y="364.75" width="9.75" height="2.63" fill="#00e600"/>
<rect x="615.60" y="364.75" width="9.75" height="2.63" fill="#00e600"/>
<rect x="625.30" y="364.75" width="9.75" height="2.63" fill="#ff0000"/>
<rect x="635.00" y="364.75" width="9.75" height="2.63" fill="#3a58e8"/>
<rect x="644.70" y="364.75" width="9.75" height="2.63" fill="#00e600"/>
<rect x="654.40" y="364.75" width="9.75" height="2.63" fill="#00e600"/>
<rect x="664.10" y="364.75" width="9.75" height="2.63" fill="#00e600"/>
<rect x="596.20" y="367.33" width="9.75" height="2.63" fill="#00e600"/>
<rect x="605.90" y="367.33" width="9.75" height="2.63" fill="#00e600"/>
<rect x="615.60" y="367.33" width="9.75" height="2.63" fill="#00e600"/>
<rect x="625.30" y="367.33" width="9.75" height="2.63" fill="#00e600"/>
<rect x="635.00" y="367.33" width="9.75" height="2.63" fill="#00e600"/>
<rect x="644.70" y="367.33" width="9.75" height="2.63" fill="#00e600"/>
<rect x="654.40" y="367.33" width="9.75" height="2.63" fill="#00e600"/>
<rect x="664.10" y="367.33" width="9.75" height="2.63" fill="#00e600"/>
<rect x="596.20" y="369.92" width="9.75" height="2.63" fill="#3a58e8"/>
<rect x="605.90" y="369.92" width="9.75" height="2.63" fill="#00e600"/>
<rect x="615.60" y="369.92" width="9.75" height="2.63" fill="#00e600"/>
<rect x="625.30" y="369.92" width="9.75" height="2.63" fill="#3a58e8"/>
<rect x="635.00" y="369.92" width="9.75" height="2.63" fill="#00e600"/>
<rect x="644.70" y="369.92" width="9.75" height="2.63" fill="#ff0000"/>
<rect x="654.40" y="369.92" width="9.75" height="2.63" fill="#00e600"/>
<rect x="664.10" y="369.92" width="9.75" height="2.63" fill="#ff0000"/>
<rect x="596.2" y="267.5" width="77.6" height="1.7" fill="#88cc99"/>
</g>
</svg>
</body></html>
